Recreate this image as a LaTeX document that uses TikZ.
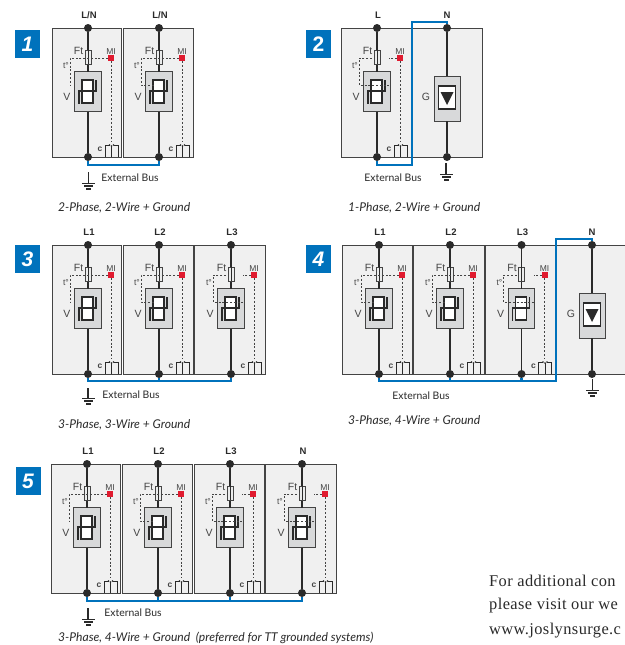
\documentclass[tikz,border=0pt]{standalone}
\usepackage{fontspec}
\setmainfont{Liberation Sans}
\newfontfamily\capfont{Lato}
\newfontfamily\serfont[LetterSpace=2.5]{Liberation Serif}
\pgfdeclarelayer{fg}
\pgfsetlayers{main,fg}
\definecolor{joslyn}{HTML}{0072BC}
\definecolor{ink}{HTML}{2A2A2A}
\definecolor{soft}{HTML}{444444}
\definecolor{panelfill}{HTML}{F0F0F0}
\definecolor{boxfill}{HTML}{D8D9DA}
\definecolor{mired}{HTML}{E01B2F}
\tikzset{
  x=1pt,y=-1pt,
  panelbox/.style={draw=soft,line width=0.9pt,fill=panelfill},
  wire/.style={draw=ink,line width=1.5pt},
  busline/.style={draw=joslyn,line width=2.2pt,line join=miter},
  sensebox/.style={draw=soft,line width=1pt,fill=boxfill},
  fusebox/.style={draw=soft,line width=0.7pt,fill=boxfill!50},
  digitline/.style={draw=ink,line width=1.6pt,line join=miter},
  dashline/.style={draw=soft,line width=0.7pt,dash pattern=on 2pt off 1.8pt},
  contact/.style={draw=ink,line width=0.6pt},
  termdot/.style={circle,fill=ink,inner sep=0pt,minimum size=8pt},
  wirelabel/.style={font=\fontsize{9.5}{10}\selectfont\bfseries,text=ink,inner sep=0pt},
  small/.style={font=\fontsize{10.5}{11}\selectfont,text=soft,inner sep=0pt},
  tiny/.style={font=\fontsize{8.5}{9}\selectfont,text=soft,inner sep=0pt},
  clabel/.style={font=\fontsize{8.5}{9}\selectfont\bfseries,text=soft,inner sep=0pt},
  buslabel/.style={font=\capfont\fontsize{10.4}{12}\selectfont,text=ink,inner sep=0pt},
  caption/.style={font=\capfont\itshape\fontsize{12.1}{14}\selectfont,text=ink,inner sep=0pt,anchor=west},
  badge/.style={fill=joslyn,text=white,inner sep=0pt,minimum width=25pt,minimum height=28pt,font=\fontsize{21}{24}\selectfont\bfseries},
  sertext/.style={font=\serfont\fontsize{16.4}{19}\selectfont,text=ink,inner sep=0pt,anchor=west},
}
\newcommand{\panelrect}[3]{\path[panelbox] (#1,#3) rectangle (#2,#3+129);}
% name, cx, top, label, variant
\newcommand{\spdmod}[5]{%
\begin{scope}[shift={(#2,#3)}]
  \begin{pgfonlayer}{fg}
    \node[termdot] (#1-top) at (0,0) {};
    \node[termdot] (#1-bot) at (0,129) {};
  \end{pgfonlayer}
  \node[wirelabel] (#1-lab) at (1,-13) {#4};
  \path[sensebox] (-13.5,43.5) rectangle (13,83.5);
  \coordinate (#1-vt) at (0,43.5);
  \coordinate (#1-vb) at (0,83.5);
  \draw[wire] (#1-top) -- (#1-vt);
  \draw[wire] (#1-vb) -- (#1-bot);
  \path[fusebox] (-3,22) rectangle (3,36);
  \draw[wire,line width=0.7pt] (0,22) -- (0,36);
  \node[small] (#1-ft) at (-9.5,23) {Ft};
  \node[tiny] (#1-mi) at (23,23.5) {MI};
  \node[tiny] (#1-tc) at (-22,38) {t°};
  \node[small] (#1-v) at (-21,69) {V};
  \node[clabel] (#1-c) at (12,121) {c};
  \path[fill=white] (-6,52) rectangle (5,75);
  \draw[digitline] (-6,52) rectangle (5,75);
  \draw[digitline] (8,52) -- (8,63) -- (-9,63) -- (-9,76);
  \fill[mired] (20,27) rectangle (26,33);
  \ifcase#5\or
    \draw[dashline] (20,30) -- (-18,30) -- (-18,57);
  \or
    \draw[dashline] (20,30) -- (-18,30) -- (-18,57) -- (-5,57);
  \or
    \draw[dashline] (20,30) -- (12,30);
    \draw[dashline] (-5,30) -- (-18,30) -- (-18,57) -- (13,57);
  \fi
  \draw[dashline] (23,33) -- (23,113);
  \draw[contact] (17,129) -- (17,117) -- (21.5,117);
  \draw[contact] (30,129) -- (30,117) -- (25.5,117);
  \draw[contact] (23.5,118) -- (23.5,129);
  \fill[ink] (21.5,117) circle (0.8pt) (25.5,117) circle (0.8pt) (23.5,118) circle (0.8pt);
\end{scope}}
% G module: name, cx, top, label
\newcommand{\gapmod}[4]{%
\begin{scope}[shift={(#2,#3)}]
  \begin{pgfonlayer}{fg}
    \node[termdot] (#1-top) at (0,0) {};
    \node[termdot] (#1-bot) at (0,129) {};
  \end{pgfonlayer}
  \node[wirelabel] (#1-lab) at (0,-13) {#4};
  \path[sensebox] (-13,48) rectangle (13,93);
  \coordinate (#1-vt) at (0,48);
  \coordinate (#1-vb) at (0,93);
  \draw[wire] (#1-top) -- (#1-vt);
  \draw[wire] (#1-vb) -- (#1-bot);
  \path[fill=white] (-8.5,58) rectangle (8.5,81);
  \draw[digitline] (-8.5,58) rectangle (8.5,81);
  \fill[ink] (-6.5,64) -- (6.5,64) -- (0,77) -- cycle;
\end{scope}}
% name, x, y of stem start, stem length
\newcommand{\earth}[4]{%
\begin{scope}[shift={(#2,#3)}]
  \coordinate (#1) at (0,0);
  \coordinate (#1-j) at (0,#4);
  \draw[wire] (#1) -- (#1-j);
  \fill[ink] (-6.5,#4-0.5) rectangle (6.5,#4+1.2);
  \fill[ink] (-4.5,#4+2.2) rectangle (4.5,#4+3.9);
  \fill[ink] (-2.5,#4+4.9) rectangle (2.5,#4+6.6);
\end{scope}}
\begin{document}
\begin{tikzpicture}
\useasboundingbox[fill=white] (0,0) rectangle (624,645);

% ---------- Panel 1
\node[badge,font=\fontsize{21}{24}\selectfont\bfseries\itshape] (b1) at (27.5,44) {1};
\panelrect{52}{121.5}{28.5}\panelrect{123.5}{193}{28.5}
\spdmod{a1}{88}{28}{L/N}{1}
\spdmod{a2}{159}{28}{L/N}{2}
\draw[busline] (a1-bot) -- ++(0,8) -| (a2-bot);
\earth{ga}{88.5}{172}{11}
\node[buslabel] (xa) at (130,178) {External Bus};
\node[caption] (ca) at (58,208) {2-Phase, 2-Wire + Ground};

% ---------- Panel 2
\node[badge] (b2) at (318.5,44) {2};
\panelrect{341}{482}{28.5}
\spdmod{c1}{377}{28}{L}{3}
\gapmod{c2}{447}{28}{N}
\node[small] (gc) at (426,97) {G};
\coordinate (cb) at (412,165);
\coordinate (ct) at (412,22);
\draw[busline] (c1-bot) |- (cb) -- (ct) -| (c2-top);
\earth{gc1}{446}{163}{11}
\node[buslabel] (xc) at (393,178) {External Bus};
\node[caption] (cc) at (348,208) {1-Phase, 2-Wire + Ground};

% ---------- Panel 3
\node[badge,font=\fontsize{21}{24}\selectfont\bfseries\itshape] (b3) at (27.5,259) {3};
\panelrect{52}{121.5}{245.5}\panelrect{123.5}{193}{245.5}\panelrect{194.5}{265}{245.5}
\spdmod{d1}{88}{245}{L1}{1}
\spdmod{d2}{159}{245}{L2}{2}
\spdmod{d3}{231}{245}{L3}{3}
\draw[busline] (d1-bot) -- ++(0,7) -| (d3-bot);
\draw[busline] (d2-bot) -- ++(0,7);
\earth{gd}{88}{388}{10}
\node[buslabel] (xd) at (131,395) {External Bus};
\node[caption] (cd) at (58,425) {3-Phase, 3-Wire + Ground};

% ---------- Panel 4
\node[badge,font=\fontsize{21}{24}\selectfont\bfseries\itshape] (b4) at (318.5,259) {4};
\panelrect{342}{412}{245.5}\panelrect{413}{484}{245.5}\panelrect{485}{555.5}{245.5}\panelrect{556.5}{630}{245.5}
\spdmod{e1}{379}{245}{L1}{2}
\spdmod{e2}{450}{245}{L2}{2}
\spdmod{e3}{521.5}{245}{L3}{3}
\gapmod{e4}{592}{245}{N}
\node[small] (ge) at (571,314) {G};
\coordinate (eb) at (556,381);
\coordinate (et) at (556,239);
\draw[busline] (e1-bot) |- (eb) -- (et) -| (e4-top);
\draw[busline] (e2-bot) -- ++(0,7);
\draw[busline] (e3-bot) -- ++(0,7);
\earth{ge1}{592.5}{379}{11}
\node[buslabel] (xe) at (421,396) {External Bus};
\node[caption] (ce) at (348,421) {3-Phase, 4-Wire + Ground};

% ---------- Panel 5
\node[badge,font=\fontsize{21}{24}\selectfont\bfseries\itshape] (b5) at (28,481) {5};
\panelrect{51}{120.7}{464.5}\panelrect{122.7}{192.7}{464.5}\panelrect{194}{264}{464.5}\panelrect{265.3}{336}{464.5}
\spdmod{f1}{87}{464}{L1}{1}
\spdmod{f2}{158}{464}{L2}{2}
\spdmod{f3}{230}{464}{L3}{3}
\spdmod{f4}{302}{464}{N}{3}
\draw[busline] (f1-bot) -- ++(0,8) -| (f4-bot);
\draw[busline] (f2-bot) -- ++(0,8);
\draw[busline] (f3-bot) -- ++(0,8);
\earth{gf}{88}{608}{11}
\node[buslabel] (xf) at (133,613) {External Bus};
\node[caption] (cf) at (58,638) {3-Phase, 4-Wire + Ground\ \ (preferred for TT grounded systems)};

% ---------- Side text
\node[sertext] (s1) at (489,581) {For additional con};
\node[sertext] (s2) at (489,606) {please visit our we};
\node[sertext] (s3) at (489,631) {www.joslynsurge.c};
\end{tikzpicture}
\end{document}
